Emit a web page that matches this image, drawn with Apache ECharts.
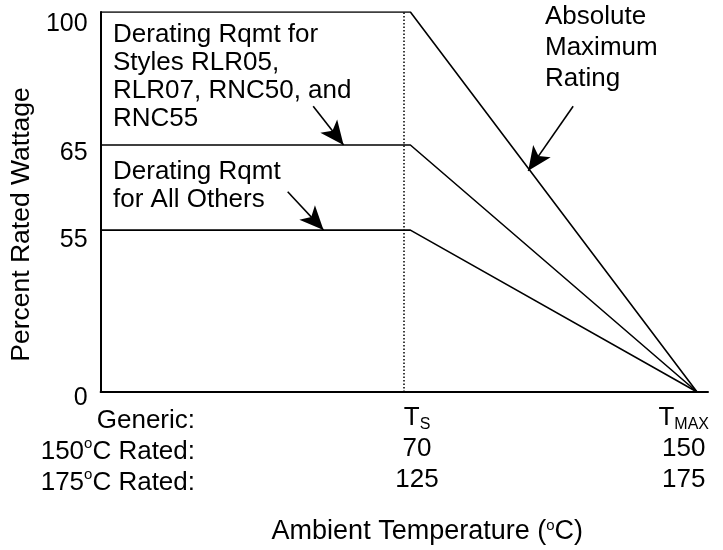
<!DOCTYPE html>
<html>
<head>
<meta charset="utf-8">
<script src="https://cdn.jsdelivr.net/npm/echarts@6/dist/echarts.min.js"></script>
<style>
  html, body { margin: 0; padding: 0; background: #fff; }
  #chart { width: 723px; height: 550px; }
</style>
</head>
<body>
<div id="chart"></div>
<script>
// ---- data (schematic units: x = 0..100 along the temperature axis, y = drawn level) ----
const absMaxLine   = [[0, 100], [51, 100], [98.2, 0]];
const rlrLine      = [[0, 65],  [51, 65],  [98.2, 0]];
const othersLine   = [[0, 42.6], [51, 42.6], [98.2, 0]];
const tsMarker     = 49.9;                       // dotted T_S guide

const yTickPos     = [0, 42.6, 65, 100];
const yTickLabels  = ['0', '55', '65', '100'];

const xColumnPos   = [52.1, 96.0];
const rowHeaders   = ['Generic:', '150{sup|o}C Rated:', '175{sup|o}C Rated:'];
const genericRow   = ['T{sub|S}', 'T{sub|MAX}'];
const rated150Row  = ['70', '150'];
const rated175Row  = ['125', '175'];

const noteRlr      = ['Derating Rqmt for', 'Styles RLR05,', 'RLR07, RNC50, and', 'RNC55'];
const noteOthers   = ['Derating Rqmt', 'for All Others'];
const noteAbs      = ['Absolute', 'Maximum', 'Rating'];

const arrowRlr     = [[35.0, 75.2], [40.0, 65.0]];
const arrowOthers  = [[30.8, 52.7], [36.7, 42.6]];
const arrowAbs     = [[77.8, 75.2], [70.4, 58.2]];

// ---- chart ----
const FONT = 'Liberation Sans, Arial, Helvetica, sans-serif';
const chart = echarts.init(document.getElementById('chart'));

const lineStyle = { color: '#000', width: 1.6 };
function lineSeries(name, data) {
  return {
    name, type: 'line', data, symbol: 'none', silent: true,
    lineStyle, z: 3
  };
}
function arrow(pts) {
  return [{ coord: pts[0] }, { coord: pts[1] }];
}

const richCommon = {
  sub: { fontSize: 16, fontFamily: FONT, color: '#000', verticalAlign: 'bottom', lineHeight: 17 },
  sup: { fontSize: 15, fontFamily: FONT, color: '#000', verticalAlign: 'top', lineHeight: 17 },
  n:   { fontSize: 26, fontFamily: FONT, color: '#000', lineHeight: 31 }
};
const richRight = {
  sup: { fontSize: 15, fontFamily: FONT, color: '#000', verticalAlign: 'top', lineHeight: 17, align: 'right' },
  n:   { fontSize: 26, fontFamily: FONT, color: '#000', lineHeight: 31, align: 'right' }
};
// vertical drop of each y tick label below its level (line-height trick)
const yLabelDrop = [12, 20, 16, 24];
const yRich = {};
yTickLabels.forEach((l, i) => {
  yRich['t' + i] = { fontSize: 25, fontFamily: FONT, color: '#000', lineHeight: yLabelDrop[i] };
});

const option = {
  animation: false,
  backgroundColor: '#fff',
  grid: { left: 100, right: 15, top: 12, bottom: 155 },
  xAxis: {
    type: 'value', min: 0, max: 100,
    name: 'Ambient Temperature ({sup|o}C)',
    nameLocation: 'middle', nameGap: 126,
    nameTextStyle: {
      fontFamily: FONT, fontSize: 27, color: '#000', padding: [0, 0, 0, 46],
      rich: { sup: { fontSize: 15, fontFamily: FONT, color: '#000', verticalAlign: 'top', lineHeight: 17 } }
    },
    axisLine: { show: true, lineStyle: { color: '#000', width: 2 } },
    axisTick: { show: false },
    splitLine: { show: false },
    axisLabel: {
      customValues: xColumnPos,
      margin: 10,
      fontFamily: FONT, fontSize: 26, color: '#000',
      lineHeight: 31,
      verticalAlign: 'top',
      formatter: function (v) {
        let i = 0, best = Infinity;
        xColumnPos.forEach((p, k) => { if (Math.abs(p - v) < best) { best = Math.abs(p - v); i = k; } });
        return '{n|' + genericRow[i].replace(/\{sub\|([^}]*)\}/, '}{sub|$1}{n|') + '}\n{n|' + rated150Row[i] + '}\n{n|' + rated175Row[i] + '}';
      },
      rich: richCommon
    }
  },
  yAxis: {
    type: 'value', min: 0, max: 100,
    name: 'Percent Rated Wattage',
    nameLocation: 'middle', nameGap: 60,
    nameTextStyle: { fontFamily: FONT, fontSize: 26.5, color: '#000', padding: [0, 45, 0, 0] },
    axisLine: { show: true, lineStyle: { color: '#000', width: 2 } },
    axisTick: { show: false },
    splitLine: { show: false },
    axisLabel: {
      customValues: yTickPos,
      margin: 13,
      fontFamily: FONT, fontSize: 25, color: '#000',
      verticalAlign: 'top',
      formatter: function (v) {
        const i = yTickPos.indexOf(v);
        return i >= 0 ? '{t' + i + '|' + yTickLabels[i] + '}' : '';
      },
      rich: yRich
    }
  },
  series: [
    lineSeries('Absolute Maximum Rating', absMaxLine),
    lineSeries('RLR05/RLR07/RNC50/RNC55', rlrLine),
    lineSeries('All Others', othersLine),
    {
      name: 'annotations', type: 'line', data: [], silent: true,
      markLine: {
        silent: true,
        symbol: ['none', 'arrow'],
        symbolSize: [16, 24],
        label: { show: false },
        lineStyle: { color: '#000', width: 1.6, type: 'solid' },
        data: [arrow(arrowRlr), arrow(arrowOthers), arrow(arrowAbs)]
      }
    },
    {
      name: 'Ts', type: 'line', data: [], silent: true,
      markLine: {
        silent: true, symbol: 'none',
        label: { show: false },
        lineStyle: { color: '#000', width: 1.5, type: [1.5, 2] },
        data: [{ xAxis: tsMarker }]
      }
    }
  ],
  graphic: [
    {
      type: 'text', left: 113, top: 21,
      style: { text: noteRlr.join('\n'), font: '26px ' + FONT, fill: '#000', lineHeight: 28 }
    },
    {
      type: 'text', left: 113, top: 158,
      style: { text: noteOthers.join('\n'), font: '26px ' + FONT, fill: '#000', lineHeight: 28 }
    },
    {
      type: 'text', left: 545, top: 1,
      style: { text: noteAbs.join('\n'), font: '26px ' + FONT, fill: '#000', lineHeight: 31 }
    },
    {
      type: 'text', right: 723 - 195, top: 405,
      style: {
        text: rowHeaders.map(h => '{n|' + h.replace(/\{sup\|([^}]*)\}/, '}{sup|$1}{n|') + '}').join('\n'),
        font: '26px ' + FONT, fill: '#000', align: 'right', lineHeight: 31,
        rich: richRight
      }
    }
  ]
};
chart.setOption(option);
</script>
</body>
</html>
